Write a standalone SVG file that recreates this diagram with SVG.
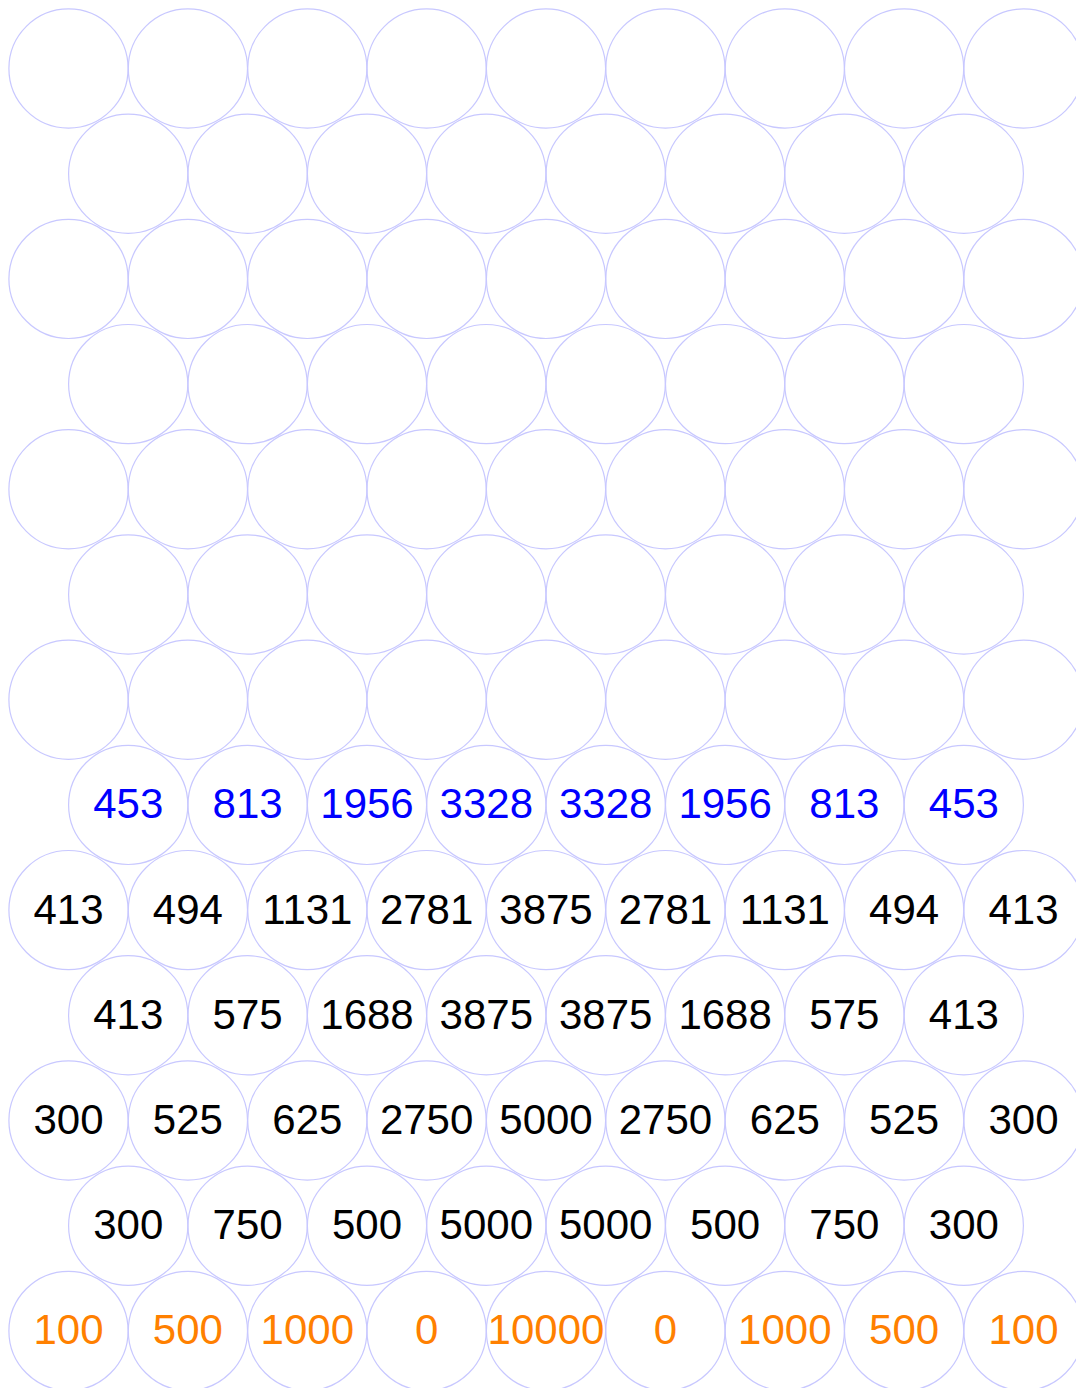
<svg xmlns="http://www.w3.org/2000/svg" width="1076" height="1388" viewBox="0 0 1076 1388">
<style>
circle{fill:none;stroke:#c8c8ff;stroke-width:1.2}
text{font-family:"Liberation Sans",Arial,sans-serif;font-size:42px;text-anchor:middle}
.b{fill:#0000ff}.k{fill:#000}.o{fill:#ff8000}
</style>
<defs><circle id="c" r="59.6"/></defs>
<rect width="1076" height="1388" fill="#fff"/>
<g id="connectors"/>
<g id="row0">
<g id="n0-0" transform="translate(68.5,68.5)"><use href="#c"/></g>
<g id="n0-1" transform="translate(187.9,68.5)"><use href="#c"/></g>
<g id="n0-2" transform="translate(307.3,68.5)"><use href="#c"/></g>
<g id="n0-3" transform="translate(426.6,68.5)"><use href="#c"/></g>
<g id="n0-4" transform="translate(546,68.5)"><use href="#c"/></g>
<g id="n0-5" transform="translate(665.4,68.5)"><use href="#c"/></g>
<g id="n0-6" transform="translate(784.8,68.5)"><use href="#c"/></g>
<g id="n0-7" transform="translate(904.1,68.5)"><use href="#c"/></g>
<g id="n0-8" transform="translate(1023.5,68.5)"><use href="#c"/></g>
</g>
<g id="row1">
<g id="n1-0" transform="translate(128.2,173.7)"><use href="#c"/></g>
<g id="n1-1" transform="translate(247.6,173.7)"><use href="#c"/></g>
<g id="n1-2" transform="translate(367,173.7)"><use href="#c"/></g>
<g id="n1-3" transform="translate(486.3,173.7)"><use href="#c"/></g>
<g id="n1-4" transform="translate(605.7,173.7)"><use href="#c"/></g>
<g id="n1-5" transform="translate(725.1,173.7)"><use href="#c"/></g>
<g id="n1-6" transform="translate(844.4,173.7)"><use href="#c"/></g>
<g id="n1-7" transform="translate(963.8,173.7)"><use href="#c"/></g>
</g>
<g id="row2">
<g id="n2-0" transform="translate(68.5,278.9)"><use href="#c"/></g>
<g id="n2-1" transform="translate(187.9,278.9)"><use href="#c"/></g>
<g id="n2-2" transform="translate(307.3,278.9)"><use href="#c"/></g>
<g id="n2-3" transform="translate(426.6,278.9)"><use href="#c"/></g>
<g id="n2-4" transform="translate(546,278.9)"><use href="#c"/></g>
<g id="n2-5" transform="translate(665.4,278.9)"><use href="#c"/></g>
<g id="n2-6" transform="translate(784.8,278.9)"><use href="#c"/></g>
<g id="n2-7" transform="translate(904.1,278.9)"><use href="#c"/></g>
<g id="n2-8" transform="translate(1023.5,278.9)"><use href="#c"/></g>
</g>
<g id="row3">
<g id="n3-0" transform="translate(128.2,384.1)"><use href="#c"/></g>
<g id="n3-1" transform="translate(247.6,384.1)"><use href="#c"/></g>
<g id="n3-2" transform="translate(367,384.1)"><use href="#c"/></g>
<g id="n3-3" transform="translate(486.3,384.1)"><use href="#c"/></g>
<g id="n3-4" transform="translate(605.7,384.1)"><use href="#c"/></g>
<g id="n3-5" transform="translate(725.1,384.1)"><use href="#c"/></g>
<g id="n3-6" transform="translate(844.4,384.1)"><use href="#c"/></g>
<g id="n3-7" transform="translate(963.8,384.1)"><use href="#c"/></g>
</g>
<g id="row4">
<g id="n4-0" transform="translate(68.5,489.3)"><use href="#c"/></g>
<g id="n4-1" transform="translate(187.9,489.3)"><use href="#c"/></g>
<g id="n4-2" transform="translate(307.3,489.3)"><use href="#c"/></g>
<g id="n4-3" transform="translate(426.6,489.3)"><use href="#c"/></g>
<g id="n4-4" transform="translate(546,489.3)"><use href="#c"/></g>
<g id="n4-5" transform="translate(665.4,489.3)"><use href="#c"/></g>
<g id="n4-6" transform="translate(784.8,489.3)"><use href="#c"/></g>
<g id="n4-7" transform="translate(904.1,489.3)"><use href="#c"/></g>
<g id="n4-8" transform="translate(1023.5,489.3)"><use href="#c"/></g>
</g>
<g id="row5">
<g id="n5-0" transform="translate(128.2,594.5)"><use href="#c"/></g>
<g id="n5-1" transform="translate(247.6,594.5)"><use href="#c"/></g>
<g id="n5-2" transform="translate(367,594.5)"><use href="#c"/></g>
<g id="n5-3" transform="translate(486.3,594.5)"><use href="#c"/></g>
<g id="n5-4" transform="translate(605.7,594.5)"><use href="#c"/></g>
<g id="n5-5" transform="translate(725.1,594.5)"><use href="#c"/></g>
<g id="n5-6" transform="translate(844.4,594.5)"><use href="#c"/></g>
<g id="n5-7" transform="translate(963.8,594.5)"><use href="#c"/></g>
</g>
<g id="row6">
<g id="n6-0" transform="translate(68.5,699.7)"><use href="#c"/></g>
<g id="n6-1" transform="translate(187.9,699.7)"><use href="#c"/></g>
<g id="n6-2" transform="translate(307.3,699.7)"><use href="#c"/></g>
<g id="n6-3" transform="translate(426.6,699.7)"><use href="#c"/></g>
<g id="n6-4" transform="translate(546,699.7)"><use href="#c"/></g>
<g id="n6-5" transform="translate(665.4,699.7)"><use href="#c"/></g>
<g id="n6-6" transform="translate(784.8,699.7)"><use href="#c"/></g>
<g id="n6-7" transform="translate(904.1,699.7)"><use href="#c"/></g>
<g id="n6-8" transform="translate(1023.5,699.7)"><use href="#c"/></g>
</g>
<g id="row7">
<g id="n7-0" transform="translate(128.2,804.9)"><use href="#c"/><text class="b" y="13.5">453</text></g>
<g id="n7-1" transform="translate(247.6,804.9)"><use href="#c"/><text class="b" y="13.5">813</text></g>
<g id="n7-2" transform="translate(367,804.9)"><use href="#c"/><text class="b" y="13.5">1956</text></g>
<g id="n7-3" transform="translate(486.3,804.9)"><use href="#c"/><text class="b" y="13.5">3328</text></g>
<g id="n7-4" transform="translate(605.7,804.9)"><use href="#c"/><text class="b" y="13.5">3328</text></g>
<g id="n7-5" transform="translate(725.1,804.9)"><use href="#c"/><text class="b" y="13.5">1956</text></g>
<g id="n7-6" transform="translate(844.4,804.9)"><use href="#c"/><text class="b" y="13.5">813</text></g>
<g id="n7-7" transform="translate(963.8,804.9)"><use href="#c"/><text class="b" y="13.5">453</text></g>
</g>
<g id="row8">
<g id="n8-0" transform="translate(68.5,910.1)"><use href="#c"/><text class="k" y="13.5">413</text></g>
<g id="n8-1" transform="translate(187.9,910.1)"><use href="#c"/><text class="k" y="13.5">494</text></g>
<g id="n8-2" transform="translate(307.3,910.1)"><use href="#c"/><text class="k" y="13.5">1131</text></g>
<g id="n8-3" transform="translate(426.6,910.1)"><use href="#c"/><text class="k" y="13.5">2781</text></g>
<g id="n8-4" transform="translate(546,910.1)"><use href="#c"/><text class="k" y="13.5">3875</text></g>
<g id="n8-5" transform="translate(665.4,910.1)"><use href="#c"/><text class="k" y="13.5">2781</text></g>
<g id="n8-6" transform="translate(784.8,910.1)"><use href="#c"/><text class="k" y="13.5">1131</text></g>
<g id="n8-7" transform="translate(904.1,910.1)"><use href="#c"/><text class="k" y="13.5">494</text></g>
<g id="n8-8" transform="translate(1023.5,910.1)"><use href="#c"/><text class="k" y="13.5">413</text></g>
</g>
<g id="row9">
<g id="n9-0" transform="translate(128.2,1015.3)"><use href="#c"/><text class="k" y="13.5">413</text></g>
<g id="n9-1" transform="translate(247.6,1015.3)"><use href="#c"/><text class="k" y="13.5">575</text></g>
<g id="n9-2" transform="translate(367,1015.3)"><use href="#c"/><text class="k" y="13.5">1688</text></g>
<g id="n9-3" transform="translate(486.3,1015.3)"><use href="#c"/><text class="k" y="13.5">3875</text></g>
<g id="n9-4" transform="translate(605.7,1015.3)"><use href="#c"/><text class="k" y="13.5">3875</text></g>
<g id="n9-5" transform="translate(725.1,1015.3)"><use href="#c"/><text class="k" y="13.5">1688</text></g>
<g id="n9-6" transform="translate(844.4,1015.3)"><use href="#c"/><text class="k" y="13.5">575</text></g>
<g id="n9-7" transform="translate(963.8,1015.3)"><use href="#c"/><text class="k" y="13.5">413</text></g>
</g>
<g id="row10">
<g id="n10-0" transform="translate(68.5,1120.5)"><use href="#c"/><text class="k" y="13.5">300</text></g>
<g id="n10-1" transform="translate(187.9,1120.5)"><use href="#c"/><text class="k" y="13.5">525</text></g>
<g id="n10-2" transform="translate(307.3,1120.5)"><use href="#c"/><text class="k" y="13.5">625</text></g>
<g id="n10-3" transform="translate(426.6,1120.5)"><use href="#c"/><text class="k" y="13.5">2750</text></g>
<g id="n10-4" transform="translate(546,1120.5)"><use href="#c"/><text class="k" y="13.5">5000</text></g>
<g id="n10-5" transform="translate(665.4,1120.5)"><use href="#c"/><text class="k" y="13.5">2750</text></g>
<g id="n10-6" transform="translate(784.8,1120.5)"><use href="#c"/><text class="k" y="13.5">625</text></g>
<g id="n10-7" transform="translate(904.1,1120.5)"><use href="#c"/><text class="k" y="13.5">525</text></g>
<g id="n10-8" transform="translate(1023.5,1120.5)"><use href="#c"/><text class="k" y="13.5">300</text></g>
</g>
<g id="row11">
<g id="n11-0" transform="translate(128.2,1225.7)"><use href="#c"/><text class="k" y="13.5">300</text></g>
<g id="n11-1" transform="translate(247.6,1225.7)"><use href="#c"/><text class="k" y="13.5">750</text></g>
<g id="n11-2" transform="translate(367,1225.7)"><use href="#c"/><text class="k" y="13.5">500</text></g>
<g id="n11-3" transform="translate(486.3,1225.7)"><use href="#c"/><text class="k" y="13.5">5000</text></g>
<g id="n11-4" transform="translate(605.7,1225.7)"><use href="#c"/><text class="k" y="13.5">5000</text></g>
<g id="n11-5" transform="translate(725.1,1225.7)"><use href="#c"/><text class="k" y="13.5">500</text></g>
<g id="n11-6" transform="translate(844.4,1225.7)"><use href="#c"/><text class="k" y="13.5">750</text></g>
<g id="n11-7" transform="translate(963.8,1225.7)"><use href="#c"/><text class="k" y="13.5">300</text></g>
</g>
<g id="row12">
<g id="n12-0" transform="translate(68.5,1330.9)"><use href="#c"/><text class="o" y="13.5">100</text></g>
<g id="n12-1" transform="translate(187.9,1330.9)"><use href="#c"/><text class="o" y="13.5">500</text></g>
<g id="n12-2" transform="translate(307.3,1330.9)"><use href="#c"/><text class="o" y="13.5">1000</text></g>
<g id="n12-3" transform="translate(426.6,1330.9)"><use href="#c"/><text class="o" y="13.5">0</text></g>
<g id="n12-4" transform="translate(546,1330.9)"><use href="#c"/><text class="o" y="13.5">10000</text></g>
<g id="n12-5" transform="translate(665.4,1330.9)"><use href="#c"/><text class="o" y="13.5">0</text></g>
<g id="n12-6" transform="translate(784.8,1330.9)"><use href="#c"/><text class="o" y="13.5">1000</text></g>
<g id="n12-7" transform="translate(904.1,1330.9)"><use href="#c"/><text class="o" y="13.5">500</text></g>
<g id="n12-8" transform="translate(1023.5,1330.9)"><use href="#c"/><text class="o" y="13.5">100</text></g>
</g>
</svg>
